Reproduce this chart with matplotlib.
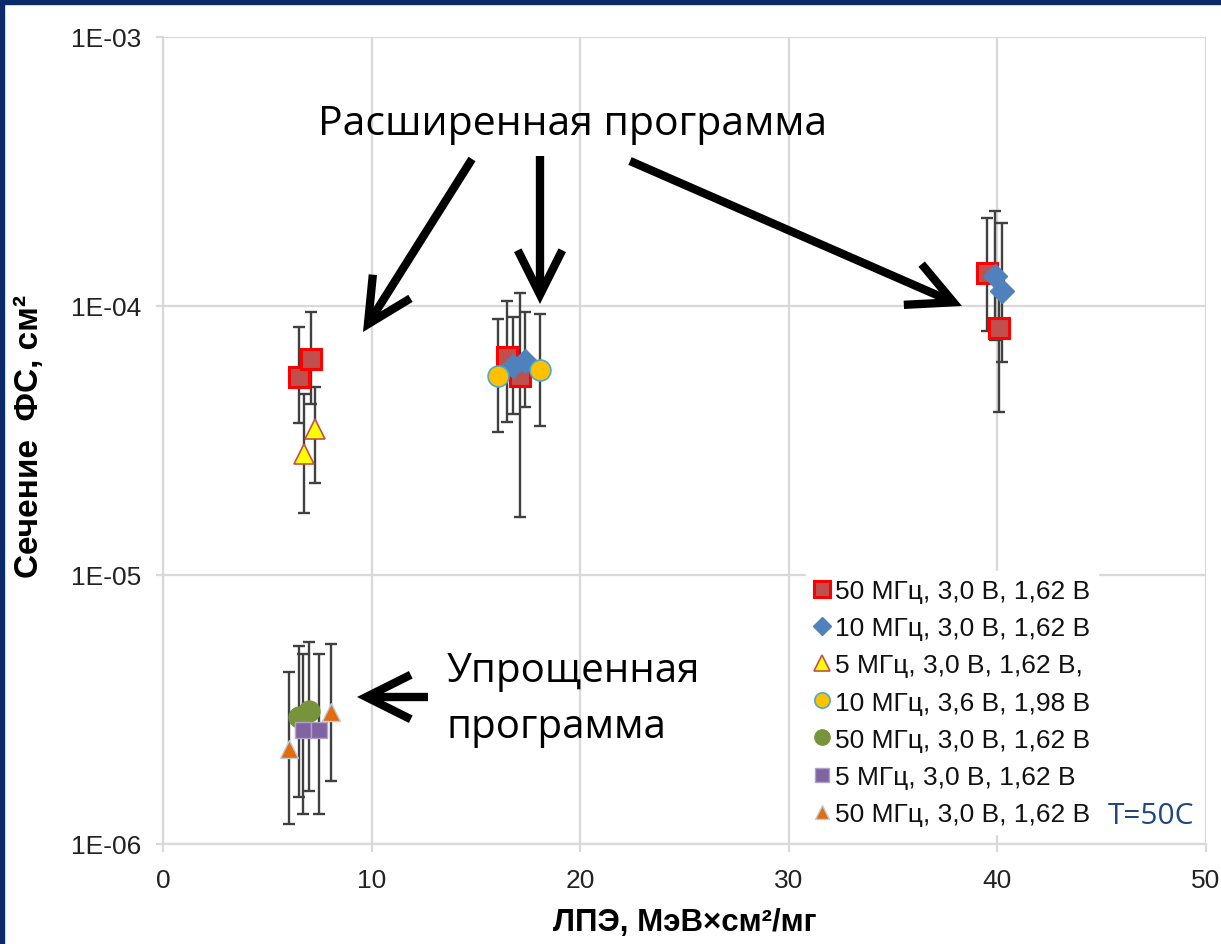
import matplotlib
matplotlib.use("Agg")
import matplotlib.pyplot as plt
from matplotlib.lines import Line2D
from matplotlib.patches import Rectangle
from matplotlib.ticker import FixedLocator, NullLocator
import numpy as np

# ---- data ----
# 50 MHz, 3.0 V, 1.62 V  (red squares)
sq50_x = [6.5, 7.1, 16.5, 17.1, 39.5, 40.1]
sq50_y = [5.45e-5, 6.35e-5, 6.46e-5, 5.5e-5, 1.33e-4, 8.3e-5]
sq50_lo = [3.67e-5, 4.32e-5, 3.7e-5, 1.64e-5, 8.07e-5, 4.03e-5]
sq50_hi = [8.35e-5, 9.5e-5, 1.045e-4, 1.12e-4, 2.12e-4, 1.25e-4]

# 10 MHz, 3.0 V, 1.62 V  (blue diamonds)
dm10_x = [16.8, 17.35, 39.9, 40.2]
dm10_y = [5.98e-5, 6.25e-5, 1.29e-4, 1.14e-4]
dm10_lo = [3.97e-5, 4.2e-5, 7.5e-5, 6.2e-5]
dm10_hi = [9.1e-5, 9.5e-5, 2.25e-4, 2.04e-4]

# 5 MHz, 3.0 V, 1.62 V  (yellow triangles)
tr5_x = [6.76, 7.3]
tr5_y = [2.82e-5, 3.49e-5]
tr5_lo = [1.70e-5, 2.2e-5]
tr5_hi = [4.7e-5, 5.0e-5]

# 10 MHz, 3.6 V, 1.98 V  (yellow circles)
ci10_x = [16.05, 18.06]
ci10_y = [5.5e-5, 5.78e-5]
ci10_lo = [3.4e-5, 3.58e-5]
ci10_hi = [8.95e-5, 9.33e-5]

# simplified program
gr50_x = [6.5, 7.0]
gr50_y = [2.96e-6, 3.12e-6]
gr50_lo = [1.5e-6, 1.57e-6]
gr50_hi = [5.45e-6, 5.63e-6]

pu5_x = [6.7, 7.5]
pu5_y = [2.65e-6, 2.65e-6]
pu5_lo = [1.29e-6, 1.29e-6]
pu5_hi = [5.08e-6, 5.08e-6]

or50_x = [6.04, 8.05]
or50_y = [2.25e-6, 3.1e-6]
or50_lo = [1.19e-6, 1.71e-6]
or50_hi = [4.36e-6, 5.54e-6]

labels = [
    "50 МГц, 3,0 В, 1,62 В",
    "10 МГц, 3,0 В, 1,62 В",
    "5 МГц, 3,0 В, 1,62 В,",
    "10 МГц, 3,6 В, 1,98 В",
    "50 МГц, 3,0 В, 1,62 В",
    "5 МГц, 3,0 В, 1,62 В",
    "50 МГц, 3,0 В, 1,62 В",
]

ytick_vals = [1e-6, 1e-5, 1e-4, 1e-3]
ytick_labels = ["1E-06", "1E-05", "1E-04", "1E-03"]
xtick_vals = [0, 10, 20, 30, 40, 50]

series = [
    (sq50_x, sq50_y, sq50_lo, sq50_hi, dict(marker="s", ms=14, mfc="#C0504D", mec="#FF0000", mew=2.2)),
    (dm10_x, dm10_y, dm10_lo, dm10_hi, dict(marker="D", ms=12, mfc="#4F81BD", mec="#4F81BD", mew=1)),
    (tr5_x, tr5_y, tr5_lo, tr5_hi, dict(marker="^", ms=15, mfc="#FFFF00", mec="#C0504D", mew=1.2)),
    (ci10_x, ci10_y, ci10_lo, ci10_hi, dict(marker="o", ms=15, mfc="#FFC000", mec="#4BACC6", mew=1.2)),
    (gr50_x, gr50_y, gr50_lo, gr50_hi, dict(marker="o", ms=15, mfc="#77933C", mec="#77933C", mew=1)),
    (pu5_x, pu5_y, pu5_lo, pu5_hi, dict(marker="s", ms=11, mfc="#8064A2", mec="#B3A2C7", mew=1)),
    (or50_x, or50_y, or50_lo, or50_hi, dict(marker="^", ms=13, mfc="#E46C0A", mec="#B9CDE5", mew=1)),
]

W, H = 1221, 945
fig = plt.figure(figsize=(W / 100, H / 100), dpi=100)
fig.patch.set_facecolor("white")

# navy frame of the slide
navy = "#0B2A6B"
fig.add_artist(Rectangle((0, 1 - 5 / H), 1, 5 / H, transform=fig.transFigure, color=navy, zorder=0))
fig.add_artist(Rectangle((0, 0), 4 / W, 1, transform=fig.transFigure, color=navy, zorder=0))

ax = fig.add_axes([163 / W, 1 - 845 / H, (1206 - 163) / W, (845 - 38) / H])
ax.set_yscale("log")
ax.set_xlim(0, 50)
ax.set_ylim(1e-6, 1e-3)

grid_c = "#D9D9D9"
ax.yaxis.set_major_locator(FixedLocator(ytick_vals))
ax.yaxis.set_minor_locator(NullLocator())
ax.set_yticklabels(ytick_labels)
ax.set_xticks(xtick_vals)
ax.grid(True, color=grid_c, lw=1.6, zorder=0)
for s in ["top", "right"]:
    ax.spines[s].set_visible(False)
for s in ["left", "bottom"]:
    ax.spines[s].set_color(grid_c)
    ax.spines[s].set_linewidth(1.6)
ax.tick_params(axis="y", length=5, width=1.6, color=grid_c, pad=11,
               labelsize=19, labelcolor="#222222")
ax.tick_params(axis="x", length=6, width=1.6, color=grid_c, pad=11,
               labelsize=19, labelcolor="#222222")
for t in ax.get_xticklabels() + ax.get_yticklabels():
    t.set_fontfamily("Liberation Sans")

# error bars first, markers on top
for x, y, lo, hi, st in series:
    y = np.array(y)
    yerr = [y - np.array(lo), np.array(hi) - y]
    ax.errorbar(x, y, yerr=yerr, fmt="none", ecolor="#404040", elinewidth=1.7,
                capsize=4, capthick=1.7, zorder=2)
for x, y, lo, hi, st in series:
    ax.plot(x, y, ls="none", zorder=3, **st)

ax.set_xlabel("ЛПЭ, МэВ×см²/мг", fontsize=22.5, fontweight="bold",
              family="Liberation Sans")
ax.xaxis.set_label_coords(0.5, -0.078)
ax.set_ylabel("Сечение  ФС, см²", fontsize=24, fontweight="bold",
              family="Liberation Sans")
ax.yaxis.set_label_coords(-0.113, 0.506)

# legend with small marker proxies
leg_sizes = [12, 9, 11, 11, 11, 10, 10]
handles = []
for (x, y, lo, hi, st), ms in zip(series, leg_sizes):
    d = dict(st)
    d["ms"] = ms
    handles.append(Line2D([], [], ls="none", **d))
leg = ax.legend(handles, labels, loc="upper left",
                bbox_to_anchor=(806 / W, 1 - 572 / H), bbox_transform=fig.transFigure,
                frameon=True, fancybox=False, framealpha=1, edgecolor="white",
                facecolor="white", prop={"family": "Liberation Sans", "size": 19},
                handlelength=0.6, handletextpad=0.2, labelspacing=0.5,
                borderpad=0.3, borderaxespad=0)
leg.set_zorder(5)
for t in leg.get_texts():
    t.set_color("#111111")
fig.text(1108 / W, 1 - 816 / H, "T=50C", fontsize=21.5, color="#1F497D",
         family="Open Sans", va="center", ha="left", zorder=6)


def fp(px, py):
    return (px, H - py)


# annotation texts and arrows
fig.text(573 / W, 1 - 125 / H, "Расширенная программа", fontsize=29.5,
         family="Open Sans", ha="center", va="center")
fig.text(447 / W, 1 - 672 / H, "Упрощенная", fontsize=29,
         family="Open Sans", ha="left", va="center")
fig.text(447 / W, 1 - 728 / H, "программа", fontsize=29,
         family="Open Sans", ha="left", va="center")

arrows = [((472, 160), (363, 333)),
          ((540, 157), (540, 305)),
          ((630, 162), (962, 307)),
          ((428, 698), (357, 698))]
for start, tip in arrows:
    ax.annotate("", xy=fp(*tip), xycoords="figure pixels",
                xytext=fp(*start), textcoords="figure pixels",
                arrowprops=dict(arrowstyle="->,head_length=1.6,head_width=0.8",
                                lw=6, color="black", mutation_scale=20,
                                shrinkA=0, shrinkB=0, joinstyle="miter",
                                capstyle="butt"),
                zorder=6)

fig.savefig("out.png", dpi=100)
